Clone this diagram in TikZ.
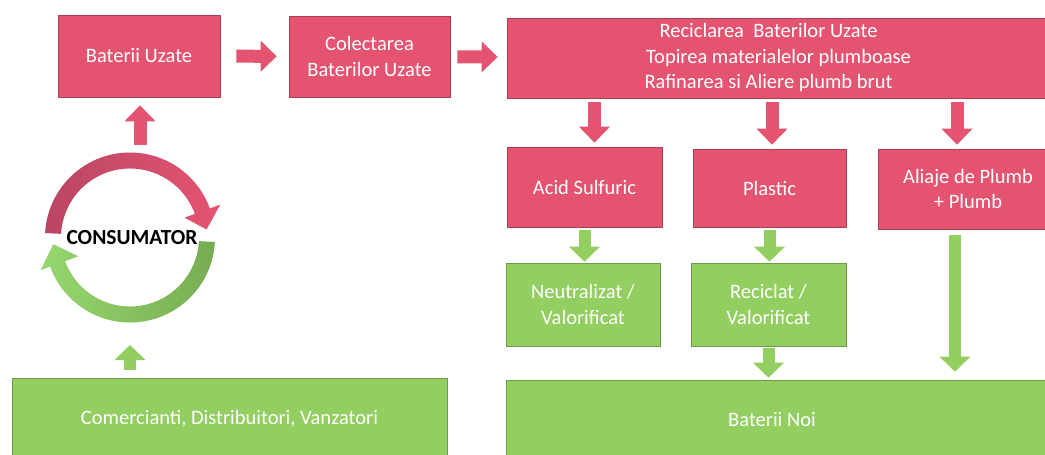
\documentclass[tikz,border=0pt]{standalone}
\usepackage{fontspec}
\setmainfont{Carlito}
\usetikzlibrary{arrows.meta}
\definecolor{pinkbox}{RGB}{228,84,112}
\definecolor{pinkdk}{RGB}{185,70,100}
\definecolor{greenbox}{RGB}{146,206,96}
\definecolor{greenlt}{RGB}{150,215,110}
\definecolor{greendk}{RGB}{118,172,82}
\begin{document}
\begin{tikzpicture}[x=1pt,y=-1pt,
  box/.style={draw=#1!75!black, line width=0.6pt, fill=#1, text=white, align=center,
    font=\fontsize{20.5}{25.5}\selectfont, inner sep=0pt},
  pinkarrow/.style={draw=pinkbox, line width=13pt, -{Triangle[width=30pt,length=16pt]}},
  greenarrow/.style={draw=greenbox, line width=12pt, -{Triangle[width=30pt,length=15pt]}}
]
\clip (0,0) rectangle (1045,455);
\fill[white] (0,0) rectangle (1045,455);

% boxes
\node[box=pinkbox, minimum width=162pt, minimum height=82pt] (bu) at (139,56) {Baterii Uzate};
\node[box=pinkbox, minimum width=161pt, minimum height=81pt] (col) at (369.5,56.5) {Colectarea\\Baterilor Uzate};
\node[box=pinkbox, minimum width=543pt, minimum height=80pt] (rec) at (778.5,58)
  {Reciclarea \ Baterilor Uzate\hspace*{20pt}\\Topirea materialelor plumboase\hspace*{20pt}\\Rafinarea si Aliere plumb brut\hspace*{20pt}};
\node[box=pinkbox, minimum width=155pt, minimum height=80pt] (acid) at (584.5,187) {Acid Sulfuric};
\node[box=pinkbox, minimum width=153pt, minimum height=78pt] (plas) at (769.5,188) {Plastic};
\node[box=pinkbox, minimum width=180pt, minimum height=80pt] (ali) at (968,189) {Aliaje de Plumb\\+ Plumb};
\node[box=greenbox, minimum width=154pt, minimum height=83pt] (neu) at (583,304.5) {Neutralizat /\\Valorificat};
\node[box=greenbox, minimum width=155pt, minimum height=83pt] (recv) at (768.5,304.5) {Reciclat /\\Valorificat};
\node[box=greenbox, minimum width=544pt, minimum height=80pt] (noi) at (778,420) {Baterii Noi\hspace*{12pt}};
\node[box=greenbox, minimum width=435pt, minimum height=82pt] (com) at (229.5,419) {Comercianti, Distribuitori, Vanzatori};

% consumer cycle
\begin{scope}[shift={(130,237.5)}, y=1pt]
  \shade[left color=pinkdk, right color=pinkbox]
    (177:85) arc[start angle=177, end angle=20, radius=85]
    -- (20:96) -- (6:77) -- (20:58) -- (20:69)
    arc[start angle=20, end angle=177, radius=69] -- cycle;
  \shade[left color=greenlt, right color=greendk]
    (-3:85) arc[start angle=-3, end angle=-160, radius=85]
    -- (-160:95) -- (-175:77) -- (-160:55) -- (-160:69)
    arc[start angle=-160, end angle=-3, radius=69] -- cycle;
\end{scope}
\node[font=\fontsize{21.5}{22}\selectfont\bfseries, text=black, inner sep=0pt] (cons) at (132,238) {CONSUMATOR};
\coordinate (ctop) at (140,150);
\coordinate (cbot) at (130,324);

% connectors
\draw[pinkarrow, shorten <=16pt, shorten >=12pt] (bu) -- (col);
\draw[pinkarrow, shorten <=7pt, shorten >=9pt] (col) -- (rec);
\draw[pinkarrow, shorten <=5pt, shorten >=8pt] (ctop) -- (bu.south -| ctop);
\draw[pinkarrow, shorten <=4pt, shorten >=4pt] ([xshift=10pt]rec.south -| acid) -- ([xshift=10pt]acid.north);
\draw[pinkarrow, shorten <=4pt, shorten >=4pt] ([xshift=2.5pt]rec.south -| plas) -- ([xshift=2.5pt]plas.north);
\draw[pinkarrow, shorten <=4pt, shorten >=4pt] ([xshift=-11pt]rec.south -| ali) -- ([xshift=-11pt]ali.north);

\draw[greenarrow, shorten <=3pt, shorten >=1pt] (acid.south) -- (acid.south |- neu.north);
\draw[greenarrow, shorten <=3pt, shorten >=1pt] (plas.south) -- (plas.south |- recv.north);
\draw[greenarrow, shorten <=2pt, shorten >=2pt] (recv.south) -- (recv.south |- noi.north);
\draw[greenarrow, shorten <=6pt, shorten >=8pt] ([xshift=-13pt]ali.south) -- ([xshift=-13pt]ali.south |- noi.north);
\draw[greenarrow, shorten <=8pt, shorten >=21pt] (cbot |- com.north) -- (cbot);
\end{tikzpicture}
\end{document}
